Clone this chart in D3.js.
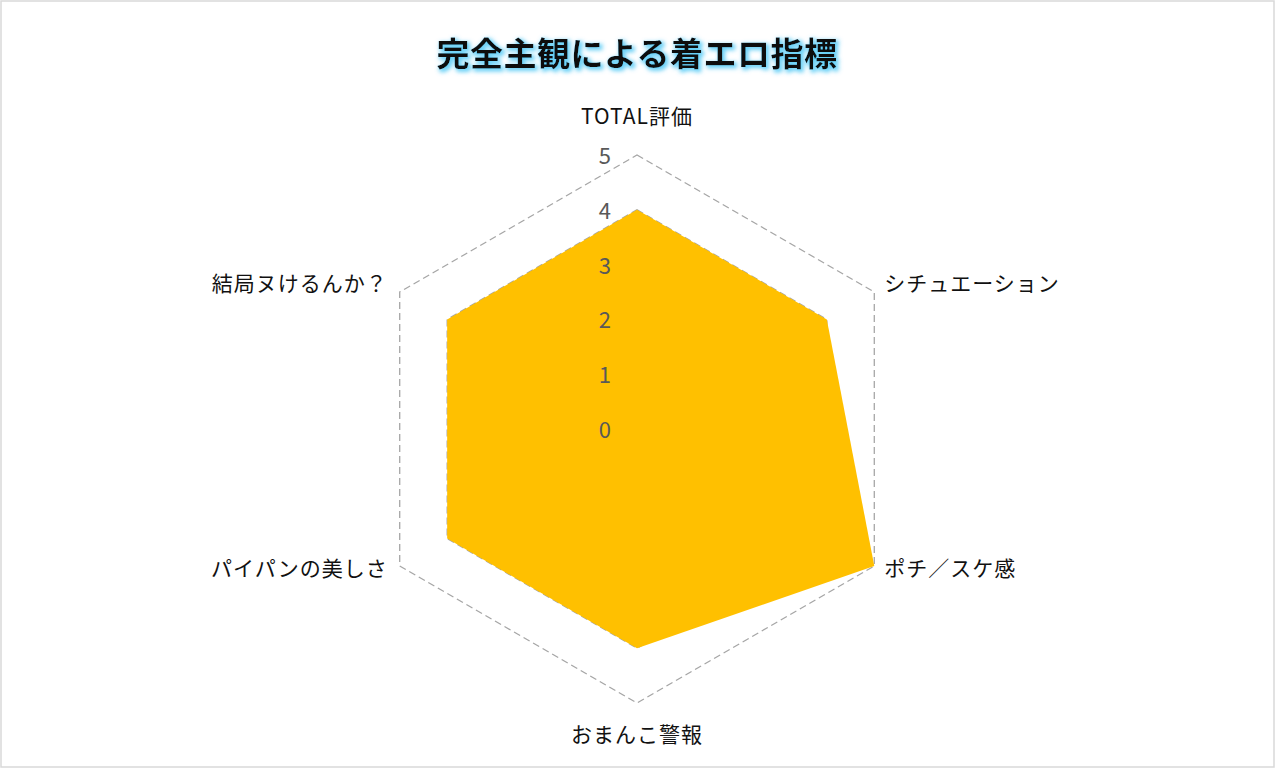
<!DOCTYPE html>
<html>
<head>
<meta charset="utf-8">
<script src="https://cdn.jsdelivr.net/npm/d3@7"></script>
<style>
  body { margin: 0; background: #fff; }
  text { font-family: "Noto Sans CJK JP", "Noto Sans", sans-serif; }
</style>
</head>
<body>
<div id="chart"></div>
<script>
// データ
var categories = ["TOTAL評価", "シチュエーション", "ポチ／スケ感", "おまんこ警報", "パイパンの美しさ", "結局ヌけるんか？"];
var values = [4, 4, 5, 4, 4, 4];
var ticks = [0, 1, 2, 3, 4, 5];
var title = "完全主観による着エロ指標";

var w = 1280, h = 772;
var cx = 637, cy = 429, R = 274;

var svg = d3.select("#chart").append("svg")
    .attr("width", w)
    .attr("height", h);

// 枠線
svg.append("rect")
    .attr("x", 1).attr("y", 1)
    .attr("width", 1273).attr("height", 766)
    .attr("fill", "#fff")
    .attr("stroke", "#d9d9d9")
    .attr("stroke-width", 1.5);

// タイトルの光彩
var defs = svg.append("defs");
var glow = defs.append("filter").attr("id", "glow")
    .attr("x", "-10%").attr("y", "-50%").attr("width", "120%").attr("height", "200%");
glow.append("feMorphology").attr("in", "SourceAlpha").attr("operator", "dilate").attr("radius", 1).attr("result", "thick");
glow.append("feOffset").attr("in", "thick").attr("dx", 1.5).attr("dy", 2).attr("result", "off");
glow.append("feGaussianBlur").attr("in", "off").attr("stdDeviation", 2.2).attr("result", "blur");
glow.append("feFlood").attr("flood-color", "#4fc8f5").attr("flood-opacity", 0.85);
glow.append("feComposite").attr("in2", "blur").attr("operator", "in").attr("result", "glowc");
var mg = glow.append("feMerge");
mg.append("feMergeNode").attr("in", "glowc");
mg.append("feMergeNode").attr("in", "SourceGraphic");

svg.append("text")
    .attr("x", cx).attr("y", 52)
    .attr("text-anchor", "middle")
    .attr("dominant-baseline", "central")
    .attr("font-size", 33)
    .attr("font-weight", "bold")
    .attr("letter-spacing", 0.5)
    .attr("fill", "#111")
    .attr("filter", "url(#glow)")
    .text(title);

var r = d3.scaleLinear().domain([0, 5]).range([0, R]);
var angle = d3.scalePoint().domain(categories).range([0, 2 * Math.PI * (categories.length - 1) / categories.length]);

function pt(cat, v) {
    var a = angle(cat);
    return [cx + r(v) * Math.sin(a), cy - r(v) * Math.cos(a)];
}

// グリッド（破線）
ticks.slice(1).forEach(function (t) {
    svg.append("polygon")
        .attr("points", categories.map(function (c) { return pt(c, t).join(","); }).join(" "))
        .attr("fill", "none")
        .attr("stroke", "#a6a6a6")
        .attr("stroke-width", 1.3)
        .attr("stroke-dasharray", "7,4");
});

// データの塗り
svg.append("polygon")
    .attr("points", categories.map(function (c, i) { return pt(c, values[i]).join(","); }).join(" "))
    .attr("fill", "#ffc000");

// 目盛りラベル
svg.selectAll(".tick")
    .data(ticks)
    .enter().append("text")
    .attr("x", 611)
    .attr("y", function (d) { return cy - r(d) - 1; })
    .attr("text-anchor", "end")
    .attr("dominant-baseline", "central")
    .attr("font-size", 22)
    .attr("fill", "#595959")
    .text(function (d) { return d; });

// 軸ラベル
svg.selectAll(".cat")
    .data(categories)
    .enter().append("text")
    .attr("x", function (d) {
        var p = pt(d, 5);
        var s = Math.sin(angle(d));
        return s > 0.1 ? p[0] + 10 : (s < -0.1 ? p[0] - 12 : p[0]);
    })
    .attr("y", function (d) {
        var p = pt(d, 5);
        var c = Math.cos(angle(d));
        if (c > 0.9) return p[1] - 40;
        if (c < -0.9) return p[1] + 30;
        return c > 0 ? p[1] - 10 : p[1] + 1;
    })
    .attr("text-anchor", function (d) {
        var s = Math.sin(angle(d));
        return s > 0.1 ? "start" : (s < -0.1 ? "end" : "middle");
    })
    .attr("dominant-baseline", "central")
    .attr("font-size", 21)
    .attr("letter-spacing", 1)
    .attr("fill", "#111")
    .text(function (d) { return d; });
</script>
</body>
</html>
